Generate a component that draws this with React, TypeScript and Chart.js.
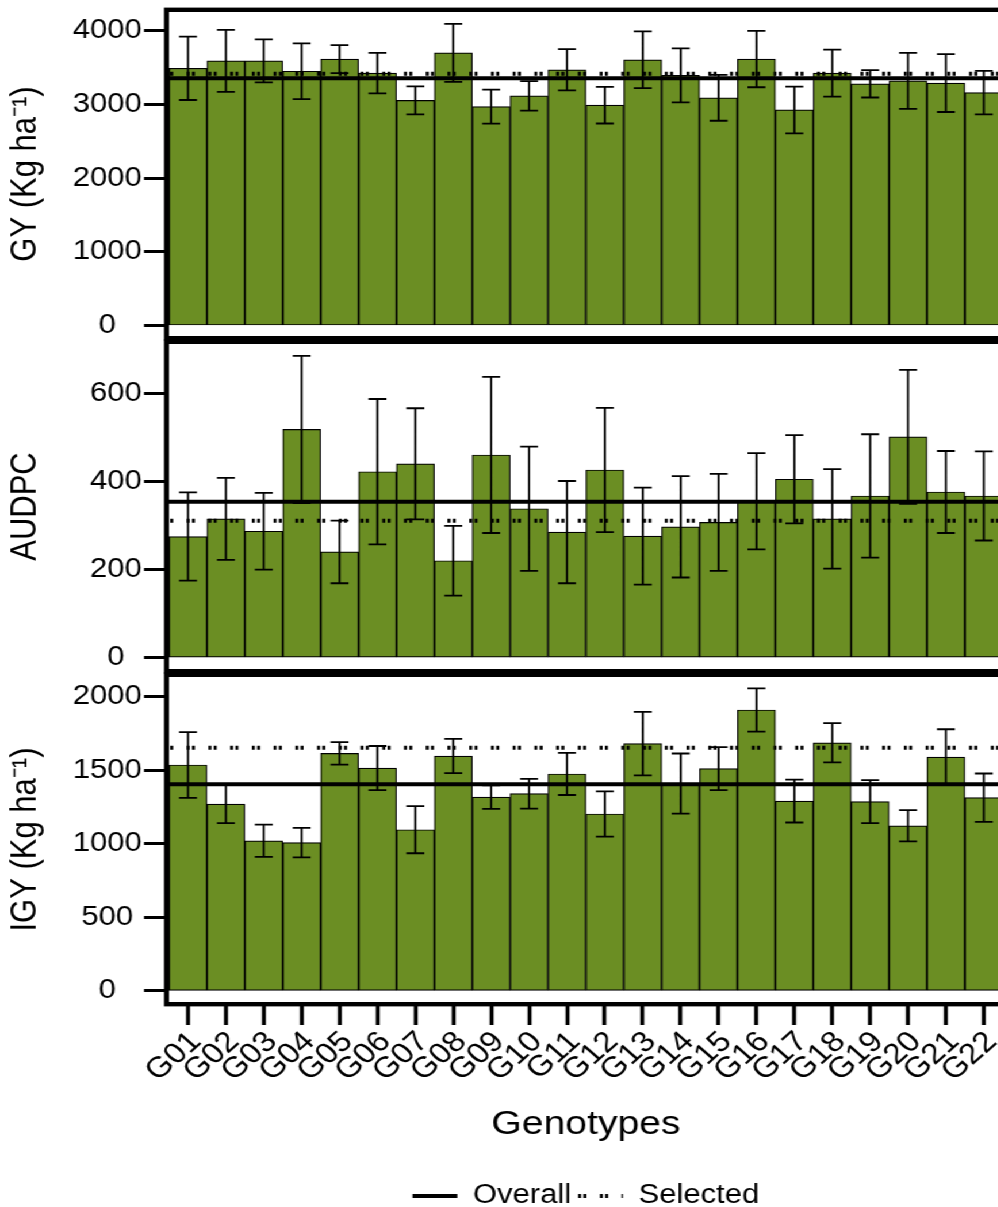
import { useEffect, useRef } from 'react';
import { Chart, registerables } from 'chart.js';

Chart.register(...registerables);

const GENOTYPES = ['G01', 'G02', 'G03', 'G04', 'G05', 'G06', 'G07', 'G08', 'G09', 'G10', 'G11', 'G12', 'G13', 'G14', 'G15', 'G16', 'G17', 'G18', 'G19', 'G20', 'G21', 'G22'];

// Grain yield (kg/ha): genotype means, standard deviations and reference means
const GY_MEAN = [3490, 3590, 3590, 3450, 3615, 3425, 3055, 3700, 2970, 3115, 3470, 2990, 3605, 3395, 3090, 3615, 2925, 3425, 3280, 3320, 3290, 3160];
const GY_SD = [430, 421, 292, 378, 190, 274, 190, 394, 232, 200, 280, 249, 385, 366, 312, 382, 317, 318, 186, 380, 393, 294];
const GY_OVERALL = 3355;
const GY_SELECTED = 3415;
const GY_TICKS = [0, 1000, 2000, 3000, 4000];

// Area under the disease progress curve
const AUDPC_MEAN = [275, 315, 287, 518, 240, 422, 440, 220, 460, 338, 285, 426, 276, 297, 307, 355, 405, 315, 367, 501, 376, 367];
const AUDPC_SD = [100, 93, 87, 167, 71, 165, 126, 79, 177, 141, 116, 141, 110, 115, 110, 109, 100, 113, 140, 152, 93, 101];
const AUDPC_OVERALL = 354;
const AUDPC_SELECTED = 311;
const AUDPC_TICKS = [0, 200, 400, 600];

// Irrigated grain yield (kg/ha)
const IGY_MEAN = [1536, 1270, 1021, 1008, 1615, 1515, 1096, 1597, 1318, 1341, 1475, 1203, 1681, 1410, 1511, 1910, 1291, 1687, 1287, 1123, 1590, 1314];
const IGY_SD = [223, 129, 110, 100, 76, 150, 160, 116, 80, 101, 143, 154, 216, 204, 146, 147, 146, 133, 146, 106, 189, 164];
const IGY_OVERALL = 1405;
const IGY_SELECTED = 1653;
const IGY_TICKS = [0, 500, 1000, 1500, 2000];

const FONT = "'Liberation Sans', Arial, Helvetica, sans-serif";
const BAR_GREEN = '#6b8e23';
const INK = '#000000';
const DOT_DASH = [2.6, 2, 2.6, 11.7];
const STRETCH = 1.15;
const CANVAS_W = 900;
const AXIS_W = 147;
const RIGHT_PAD = 28;

Chart.defaults.font.family = FONT;
Chart.defaults.color = INK;

// Draws mean ± SD whiskers on top of the bars of dataset 0
const errorBars = {
  id: 'errorBars',
  afterDatasetsDraw(chart: any, _args: any, opts: any) {
    const { ctx } = chart;
    const xs = chart.scales.x;
    const ys = chart.scales.y;
    const values: number[] = chart.data.datasets[0].data;
    ctx.save();
    ctx.strokeStyle = opts.color;
    ctx.lineWidth = opts.width;
    ctx.beginPath();
    values.forEach((v, i) => {
      const e = opts.errors[i];
      const px = xs.getPixelForValue(i);
      const top = ys.getPixelForValue(v + e);
      const bot = ys.getPixelForValue(v - e);
      ctx.moveTo(px, top);
      ctx.lineTo(px, bot);
      ctx.moveTo(px - opts.cap, top);
      ctx.lineTo(px + opts.cap, top);
      ctx.moveTo(px - opts.cap, bot);
      ctx.lineTo(px + opts.cap, bot);
    });
    ctx.stroke();
    ctx.restore();
  },
};

// Heavy box around each panel's plot area
const panelFrame = {
  id: 'panelFrame',
  afterDatasetsDraw(chart: any, _args: any, opts: any) {
    const { ctx, chartArea: a } = chart;
    const h = opts.width / 2;
    ctx.save();
    ctx.strokeStyle = opts.color;
    ctx.lineWidth = opts.width;
    ctx.strokeRect(a.left - h, a.top - h, a.right - a.left + 2 * h, a.bottom - a.top + 2 * h);
    ctx.restore();
  },
};

type Panel = {
  values: number[];
  errors: number[];
  overall: number;
  selected: number;
  ticks: number[];
  min: number;
  max: number;
  title: string;
  padTop: number;
  padBottom: number;
  showX: boolean;
};

function buildConfig(p: Panel): any {
  const span = [-0.5, GENOTYPES.length - 0.5];
  return {
    type: 'bar',
    data: {
      labels: GENOTYPES,
      datasets: [
        {
          type: 'bar',
          label: 'Mean',
          data: p.values,
          backgroundColor: BAR_GREEN,
          borderColor: INK,
          borderWidth: 1.2,
          borderSkipped: false,
          barPercentage: 1,
          categoryPercentage: 1,
          grouped: false,
          xAxisID: 'x',
          yAxisID: 'y',
          order: 2,
        },
        {
          type: 'line',
          label: 'Overall',
          data: span.map((x) => ({ x, y: p.overall })),
          borderColor: INK,
          borderWidth: 4,
          pointRadius: 0,
          xAxisID: 'xr',
          yAxisID: 'y',
          order: 1,
        },
        {
          type: 'line',
          label: 'Selected',
          data: span.map((x) => ({ x, y: p.selected })),
          borderColor: INK,
          borderWidth: 4,
          borderDash: DOT_DASH,
          borderDashOffset: 3.6,
          pointRadius: 0,
          xAxisID: 'xr',
          yAxisID: 'y',
          order: 1,
        },
      ],
    },
    options: {
      responsive: false,
      animation: false,
      events: [],
      devicePixelRatio: 1,
      layout: { padding: { left: 0, right: RIGHT_PAD, top: p.padTop, bottom: p.padBottom } },
      scales: {
        x: {
          type: 'category',
          position: 'bottom',
          display: p.showX,
          offset: true,
          grid: { display: true, offset: false, drawOnChartArea: false, drawTicks: true, tickLength: 23, tickWidth: 3.5, tickColor: INK },
          border: { display: false },
          ticks: { autoSkip: false, maxRotation: 45, minRotation: 45, labelOffset: 7, font: { size: 29 }, color: INK, padding: 0 },
          title: { display: true, text: 'Genotypes', font: { size: 34 }, color: INK, padding: { top: 0, bottom: 31 } },
          afterFit: p.showX
            ? (s: any) => {
                s.height = 174.5;
                s.paddingLeft = 0;
                s.paddingRight = 0;
              }
            : undefined,
        },
        xr: {
          type: 'linear',
          position: 'bottom',
          display: false,
          offset: false,
          bounds: 'data',
          min: -0.5,
          max: GENOTYPES.length - 0.5,
        },
        y: {
          type: 'linear',
          position: 'left',
          min: p.min,
          max: p.max,
          afterBuildTicks: (s: any) => { s.ticks = p.ticks.map((value) => ({ value })); },
          afterFit: (s: any) => {
            s.width = AXIS_W;
            s.paddingTop = 0;
            s.paddingBottom = 0;
          },
          grid: { display: true, drawOnChartArea: false, drawTicks: true, tickLength: 21.8, tickWidth: 3, tickColor: INK },
          border: { display: false },
          ticks: { crossAlign: 'center', padding: 2, font: { size: 27 }, color: INK, callback: (v: any) => String(v) },
          title: { display: true, text: p.title, font: { size: 31 }, color: INK, padding: { top: 4, bottom: 0 } },
        },
      },
      plugins: {
        legend: p.showX
          ? {
              display: true,
              position: 'bottom',
              fullSize: false,
              labels: {
                usePointStyle: true,
                pointStyle: 'line',
                pointStyleWidth: 39,
                font: { size: 27 },
                color: INK,
                padding: 6,
                generateLabels: (chart: any) =>
                  chart.data.datasets
                    .map((d: any, i: number) => ({ d, i }))
                    .filter(({ d }: any) => d.type === 'line')
                    .map(({ d, i }: any) => ({
                      text: d.label,
                      datasetIndex: i,
                      pointStyle: 'line',
                      lineWidth: d.borderWidth,
                      strokeStyle: d.borderColor,
                      fillStyle: d.borderColor,
                      lineDash: d.borderDash || [],
                      lineDashOffset: 0,
                      fontColor: INK,
                      hidden: false,
                    })),
              },
            }
          : { display: false },
        tooltip: { enabled: false },
        errorBars: { errors: p.errors, cap: 7.8, width: 1.8, color: INK },
        panelFrame: { width: 4.4, color: INK },
      },
    },
    plugins: [errorBars, panelFrame],
  };
}

const PANELS: { top: number; height: number; panel: Panel }[] = [
  {
    top: 0,
    height: 345,
    panel: { values: GY_MEAN, errors: GY_SD, overall: GY_OVERALL, selected: GY_SELECTED, ticks: GY_TICKS, min: -142.5, max: 4254, title: 'GY (Kg ha⁻¹)', padTop: 12, padBottom: 9, showX: false },
  },
  {
    top: 333,
    height: 345,
    panel: { values: AUDPC_MEAN, errors: AUDPC_SD, overall: AUDPC_OVERALL, selected: AUDPC_SELECTED, ticks: AUDPC_TICKS, min: -25.6, max: 711.8, title: 'AUDPC', padTop: 11, padBottom: 9, showX: false },
  },
  {
    top: 666,
    height: 560,
    panel: { values: IGY_MEAN, errors: IGY_SD, overall: IGY_OVERALL, selected: IGY_SELECTED, ticks: IGY_TICKS, min: -74.8, max: 2134, title: 'IGY (Kg ha⁻¹)', padTop: 11, padBottom: 6.5, showX: true },
  },
];

export default function App() {
  const refs = [useRef<HTMLCanvasElement>(null), useRef<HTMLCanvasElement>(null), useRef<HTMLCanvasElement>(null)];

  useEffect(() => {
    const charts = PANELS.map((p, i) => new Chart(refs[i].current as HTMLCanvasElement, buildConfig(p.panel)));
    return () => charts.forEach((c) => c.destroy());
  }, []);

  return (
    <div style={{ position: 'fixed', left: 0, top: 0, width: 998, height: 1207, overflow: 'hidden', background: '#fff' }}>
      <div style={{ position: 'absolute', left: 0, top: 0, width: CANVAS_W, height: 1207, transform: `scaleX(${STRETCH})`, transformOrigin: '0 0' }}>
        {PANELS.map((p, i) => (
          <canvas
            key={i}
            ref={refs[i]}
            width={CANVAS_W}
            height={p.height}
            style={{ position: 'absolute', left: 0, top: p.top, width: CANVAS_W, height: p.height }}
          />
        ))}
      </div>
    </div>
  );
}
